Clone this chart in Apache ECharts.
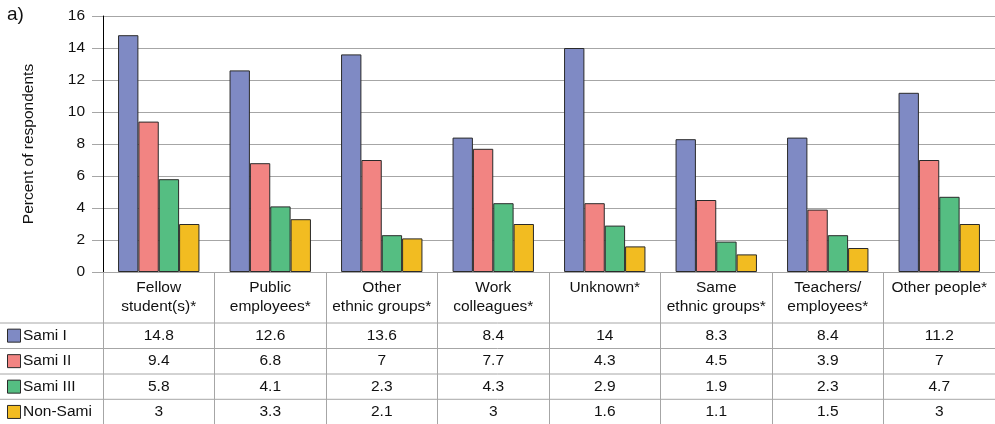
<!DOCTYPE html>
<html><head><meta charset="utf-8">
<script src="https://cdn.jsdelivr.net/npm/echarts@6/dist/echarts.min.js"></script>
<style>html,body{margin:0;padding:0;background:#fff}#c{width:995px;height:424px}</style>
</head><body><div id="c"></div>
<script>
const categories = ['Fellow\nstudent(s)*','Public\nemployees*','Other\nethnic groups*','Work\ncolleagues*','Unknown*','Same\nethnic groups*','Teachers/\nemployees*','Other people*'];
const seriesNames = ['Sami I','Sami II','Sami III','Non-Sami'];
const samiI = [14.8,12.6,13.6,8.4,14,8.3,8.4,11.2];
const samiII = [9.4,6.8,7,7.7,4.3,4.5,3.9,7];
const samiIII = [5.8,4.1,2.3,4.3,2.9,1.9,2.3,4.7];
const nonSami = [3,3.3,2.1,3,1.6,1.1,1.5,3];
const yAxisTitle = 'Percent of respondents';
const panelLabel = 'a)';

const seriesData = [samiI, samiII, samiIII, nonSami];
const colors = ['#7F8AC4','#F28482','#55BE82','#F2BC21'];
const FONT = 'Liberation Sans, Arial, sans-serif';
const GRID_COLOR = '#A6A6A6';
const TABLE_LINE = '#A6A6A6';
const FS = 15.5;

const chart = echarts.init(document.getElementById('c'), null, {renderer:'canvas'});
chart.setOption({
  animation:false,
  textStyle:{fontFamily:FONT},
  grid:{left:103, right:0, top:16, bottom:152, containLabel:false},
  xAxis:{
    type:'category', data:categories,
    axisLine:{show:true, lineStyle:{color:GRID_COLOR}},
    axisTick:{show:true, alignWithLabel:false, length:152, lineStyle:{color:TABLE_LINE}},
    axisLabel:{interval:0, margin:6, color:'#111', fontSize:FS, lineHeight:19, verticalAlign:'top', fontFamily:FONT},
    splitLine:{show:false}
  },
  yAxis:{
    type:'value', min:0, max:16, interval:2,
    name:yAxisTitle, nameLocation:'middle', nameGap:66, nameRotate:90,
    nameTextStyle:{fontSize:FS, color:'#111', fontFamily:FONT},
    axisLine:{show:true, lineStyle:{color:'#000', width:1}},
    axisTick:{show:true, length:11, lineStyle:{color:GRID_COLOR}},
    axisLabel:{margin:18, fontSize:15.5, color:'#111', fontFamily:FONT},
    splitLine:{show:true, lineStyle:{color:GRID_COLOR, width:1}}
  },
  series: seriesNames.map((n,i)=>({
    name:n, type:'bar', data:seriesData[i],
    barGap:'0%', barCategoryGap:'27%',
    itemStyle:{color:colors[i], borderColor:'#2a2a2a', borderWidth:1}
  }))
});

// Data table below the plot
const rowTops = [323, 348.5, 374, 399.3];
const rowH = 25.3;
const graphics = [];
graphics.push({type:'text', left:7, top:5, style:{text:panelLabel, fontSize:19, fill:'#111', fontFamily:FONT}});
rowTops.forEach((top, r) => {
  graphics.push({type:'line', shape:{x1:0, y1:top, x2:995, y2:top}, style:{stroke:TABLE_LINE, lineWidth:1}});
  const cy = top + rowH/2;
  graphics.push({type:'rect', shape:{x:7.5, y:cy-6.5, width:13, height:13}, style:{fill:colors[r], stroke:'#2a2a2a', lineWidth:1}});
  graphics.push({type:'text', x:23, y:cy, style:{text:seriesNames[r], fontSize:FS, fill:'#111', fontFamily:FONT, textVerticalAlign:'middle', verticalAlign:'middle'}});
  seriesData[r].forEach((v, c) => {
    const px = chart.convertToPixel({xAxisIndex:0}, c);
    graphics.push({type:'text', x:px, y:cy, style:{text:String(v), fontSize:FS, fill:'#111', fontFamily:FONT, align:'center', textAlign:'center', verticalAlign:'middle', textVerticalAlign:'middle'}});
  });
});
chart.setOption({graphic:graphics});
</script>
</body></html>
